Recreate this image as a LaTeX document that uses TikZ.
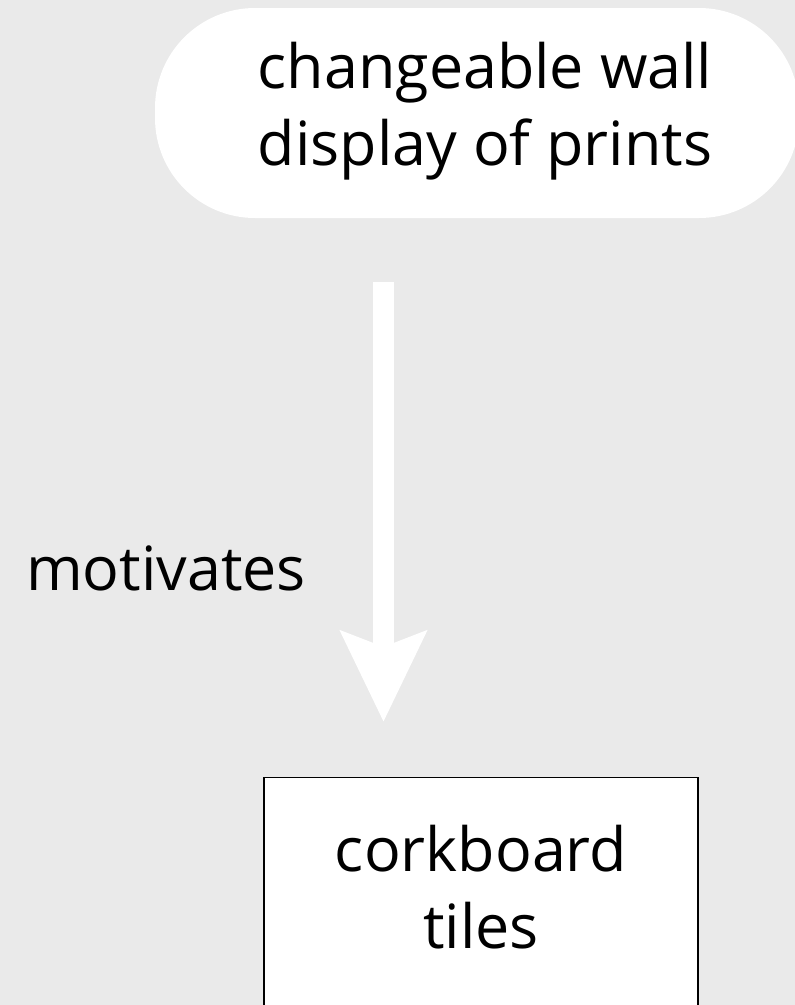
\documentclass[tikz,border=0pt]{standalone}
\usepackage{fontspec}
\setmainfont{Open Sans}
\usetikzlibrary{arrows.meta}
\definecolor{bggray}{HTML}{EAEAEA}
\tikzset{
  pillbox/.style={fill=white, draw=none, rounded corners=100pt, minimum width=644pt, minimum height=210pt, inner sep=0pt},
  cardbox/.style={fill=white, draw=black, line width=1.3pt, minimum width=434pt, minimum height=300pt, inner sep=0pt, anchor=north},
  bigtext/.style={font=\fontsize{61}{77}\selectfont, align=center, inner sep=0pt, text=black},
  flow/.style={draw=white, line width=21pt, -{Stealth[length=90pt, width=84pt, inset=15pt]}}
}
\begin{document}
\begin{tikzpicture}[x=1pt, y=-1pt]
\useasboundingbox (0,0) rectangle (795,1005);
\fill[bggray] (0,0) rectangle (795,1005);
\clip (0,0) rectangle (795,1005);
\node[pillbox] (pill) at (477,113) {};
\node[bigtext, anchor=base] (pilltext) at (485,165) {changeable wall\\display of prints};
\node[cardbox] (tiles) at (481,777) {};
\node[bigtext, anchor=base] (tilestext) at (481,948) {corkboard\\tiles};
\coordinate (ax) at (383.5,0);
\draw[flow, shorten <=64pt, shorten >=55pt] (pill.south -| ax) -- (tiles.north -| ax);
\node[bigtext, anchor=base] (mot) at (166,590) {motivates};
\end{tikzpicture}
\end{document}
